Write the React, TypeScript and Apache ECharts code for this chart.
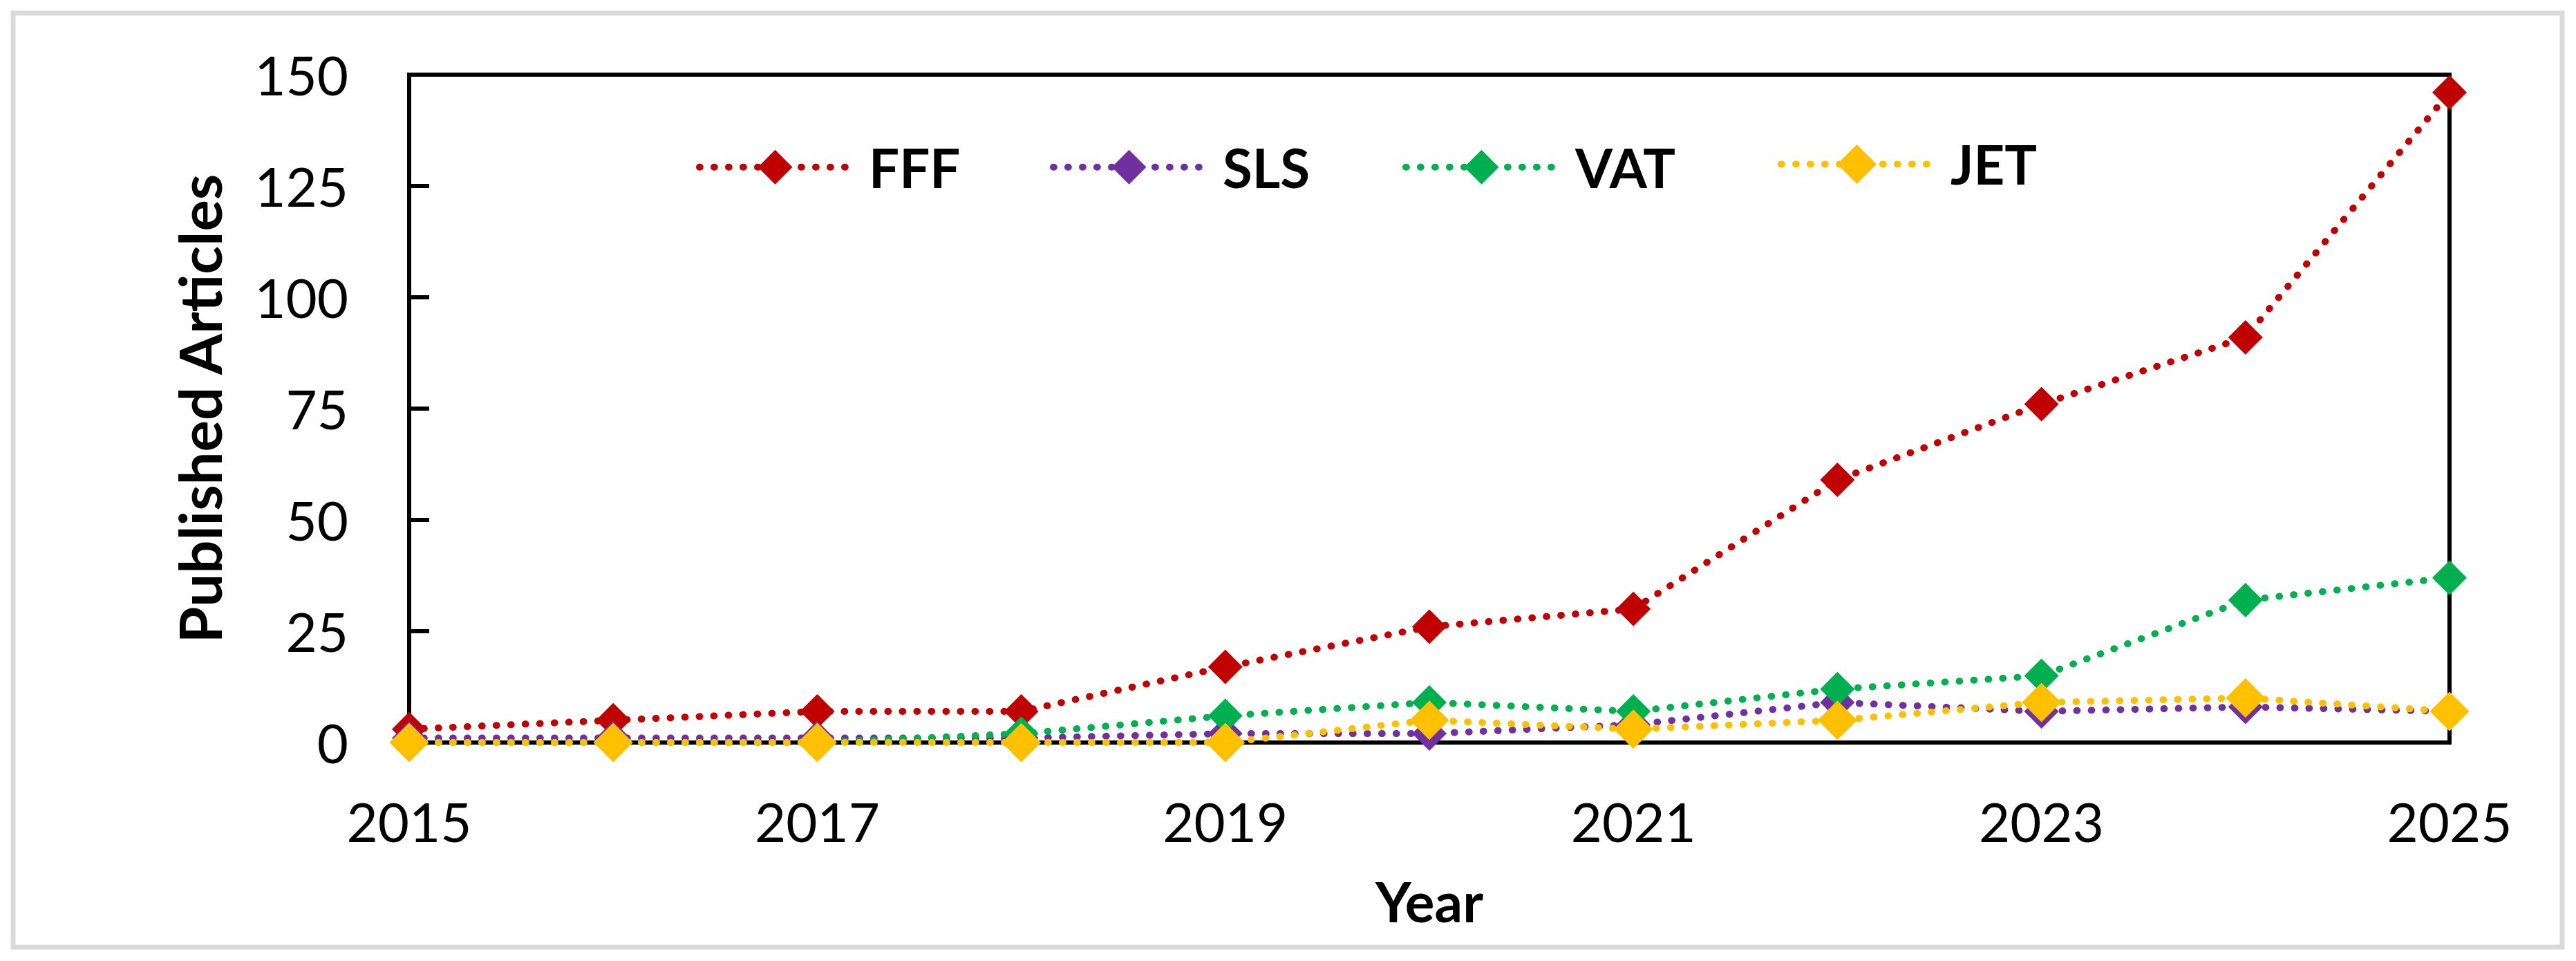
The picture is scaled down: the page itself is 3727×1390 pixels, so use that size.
import React, { useEffect, useRef } from "react";
import * as echarts from "echarts";

// ---- data ----
const years = ["2015", "2016", "2017", "2018", "2019", "2020", "2021", "2022", "2023", "2024", "2025"];
const seriesNames = ["FFF", "SLS", "VAT", "JET"];
const fffValues = [3, 5, 7, 7, 17, 26, 30, 59, 76, 91, 146];
const slsValues = [1, 1, 1, 1, 2, 2, 4, 9, 7, 8, 7];
const vatValues = [0, 0, 0, 2, 6, 9, 7, 12, 15, 32, 37];
const jetValues = [0, 0, 0, 0, 0, 5, 3, 5, 9, 10, 7];
const yMin = 0;
const yMax = 150;
const yStep = 25;

// ---- styles / layout ----
const colors = ["#C00000", "#7030A0", "#00B050", "#FFC000"];
const markerSizes = [50, 50, 50, 57];
const legendLefts = [1007, 1519, 2029, 2572];
const legendCenterY = 234;
const FONT = "Lato";

export default function App() {
  const ref = useRef<HTMLDivElement>(null);

  useEffect(() => {
    if (!ref.current) return;
    const chart = echarts.init(ref.current, undefined, { renderer: "svg" });
    const allValues = [fffValues, slsValues, vatValues, jetValues];
    const dotted = { width: 10, type: [0.8, 20.2], cap: "round" as const };

    const option: any = {
      animation: false,
      backgroundColor: "#ffffff",
      graphic: [
        {
          type: "rect",
          silent: true,
          z: -10,
          shape: { x: 19, y: 19, width: 3688, height: 1351 },
          style: { fill: "none", stroke: "#D9D9D9", lineWidth: 7 },
        },
      ],
      legend: seriesNames.map((name, i) => {
        const ih = markerSizes[i] / 0.8;
        return {
          data: [name],
          left: legendLefts[i],
          top: legendCenterY - ih / 2,
          orient: "horizontal",
          padding: 0,
          itemWidth: 219,
          itemHeight: ih,
          selectedMode: false,
          lineStyle: { width: 10, type: [0.8, 20.2], cap: "round" },
          textStyle: {
            fontFamily: FONT,
            fontWeight: "bold",
            fontSize: 78,
            color: "#000",
            lineHeight: 60,
            padding: [0, 0, 0, 21],
          },
        };
      }),
      grid: {
        left: 592,
        top: 108,
        width: 2952,
        height: 966,
        show: true,
        borderColor: "#000",
        borderWidth: 6,
        containLabel: false,
        outerBoundsMode: "none",
      },
      xAxis: {
        type: "category",
        data: years,
        boundaryGap: false,
        axisLine: { show: true, lineStyle: { color: "#000", width: 6 } },
        axisTick: { show: false },
        splitLine: { show: false },
        axisLabel: {
          interval: 1,
          margin: 75,
          fontFamily: FONT,
          fontSize: 78,
          color: "#000",
        },
        name: "Year",
        nameLocation: "middle",
        nameGap: 189,
        nameTextStyle: { fontFamily: FONT, fontWeight: "bold", fontSize: 80, color: "#000" },
      },
      yAxis: {
        type: "value",
        min: yMin,
        max: yMax,
        interval: yStep,
        axisLine: { show: true, lineStyle: { color: "#000", width: 6 } },
        axisTick: { show: true, inside: true, length: 29, lineStyle: { color: "#000", width: 6 } },
        splitLine: { show: false },
        axisLabel: { margin: 88, fontFamily: FONT, fontSize: 78, color: "#000" },
        name: "Published Articles",
        nameLocation: "middle",
        nameGap: 262,
        nameTextStyle: { fontFamily: FONT, fontWeight: "bold", fontSize: 85, color: "#000" },
      },
      series: seriesNames.map((name, i) => ({
        name,
        type: "line",
        data: allValues[i],
        symbol: "diamond",
        symbolSize: markerSizes[i],
        showAllSymbol: true,
        color: colors[i],
        itemStyle: { color: colors[i] },
        lineStyle: { ...dotted, color: colors[i] },
        emphasis: { disabled: true },
        z: 2,
      })),
    };

    chart.setOption(option);
    return () => chart.dispose();
  }, []);

  return (
    <div
      ref={ref}
      style={{ position: "fixed", left: 0, top: 0, width: 3727, height: 1390, background: "#fff" }}
    />
  );
}
